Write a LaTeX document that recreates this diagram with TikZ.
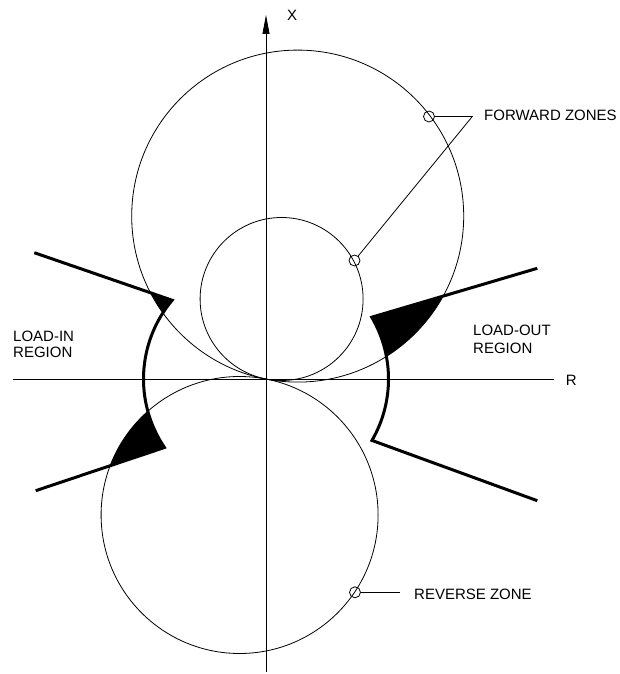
\documentclass[tikz,border=0pt]{standalone}
\usepackage{fontspec}
\setmainfont{Liberation Sans}
\usetikzlibrary{arrows.meta}
\begin{document}
\begin{tikzpicture}[x=1pt,y=1pt,
  thinline/.style={line width=0.8pt},
  boldline/.style={line width=3pt, line join=miter},
  marker/.style={circle, draw, line width=0.8pt, minimum size=11pt, inner sep=0pt},
  lbl/.style={font=\fontsize{15}{16}\selectfont, inner sep=0pt},
]
\useasboundingbox (-266,-295) rectangle (353,379);

\coordinate (O) at (0,0);
\coordinate (bigc) at (31.7,162.9);
\coordinate (smallc) at (15.6,80);
\coordinate (revc) at (-26.4,-136);

\coordinate (tipUL) at (140:122.5);
\coordinate (tipLL) at (214:122.5);
\coordinate (tipUR) at (30.3:122.5);
\coordinate (tipLR) at (-30.1:122.5);
\coordinate (farUL) at (-231.7,126.3);
\coordinate (farLL) at (-230.3,-111.7);
\coordinate (farUR) at (271.3,110.7);
\coordinate (farLR) at (271.3,-121.7);

% shaded overlaps of zones and load regions
\begin{scope}
  \clip (tipUL) -- (farUL) -- (farLL) -- (tipLL) arc[start angle=214, end angle=140, radius=122.5] -- cycle;
  \fill (bigc) circle (166);
  \fill (revc) circle (138.5);
\end{scope}
\begin{scope}
  \clip (tipUR) -- (farUR) -- (farLR) -- (tipLR) arc[start angle=-30.1, end angle=30.3, radius=122.5] -- cycle;
  \fill (bigc) circle (166);
\end{scope}

% zone circles
\draw[thinline] (bigc) circle (166);
\draw[thinline] (smallc) circle (81.5);
\draw[thinline] (revc) circle (138.5);

% axes
\coordinate (xl) at (-253,0);
\coordinate (xr) at (288,0);
\coordinate (yb) at (0,-293);
\coordinate (yt) at (0,364);
\draw[thinline] (xl) -- (xr);
\draw[thinline, -{Triangle[length=19pt,width=7pt]}] (yb) -- (yt);

% load region boundaries
\draw[boldline] (farUL) -- (tipUL) arc[start angle=140, end angle=214, radius=122.5] -- (farLL);
\draw[boldline] (farUR) -- (tipUR) arc[start angle=30.3, end angle=-30.1, radius=122.5] -- (farLR);

% markers and leaders
\node[marker] (mF1) at (163,262.5) {};
\node[marker] (mF2) at (88.5,118.5) {};
\node[marker] (mR) at (89,-213.3) {};
\coordinate (kF) at (206.3,262.5);
\coordinate (kR) at (133.7,-213.3);
\draw[thinline] (mF1) -- (kF) -- (mF2);
\draw[thinline] (mR) -- (kR);

% labels
\node[lbl, anchor=base west] (tF) at (218,258.3) {FORWARD ZONES};
\node[lbl, anchor=base west] (tRZ) at (148,-220.7) {REVERSE ZONE};
\node[lbl, anchor=base west] (tX) at (21,358.3) {X};
\node[lbl, anchor=base west] (tR) at (299.7,-6.7) {R};
\node[lbl, anchor=north west, align=left] (tLI) at (-253,48) {LOAD-IN\\REGION};
\node[lbl, anchor=north west, align=left, font=\fontsize{15}{18}\selectfont] (tLO) at (207,54) {LOAD-OUT\\REGION};
\end{tikzpicture}
\end{document}
